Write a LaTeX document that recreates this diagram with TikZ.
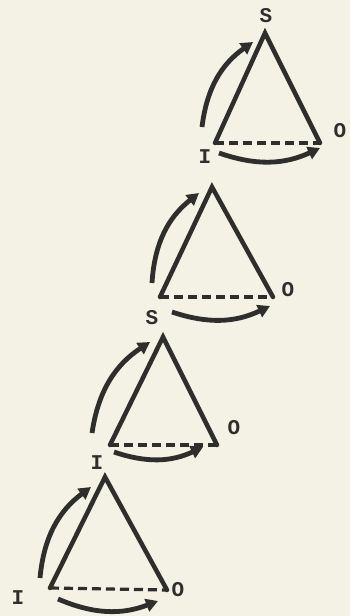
\documentclass[tikz,border=0pt]{standalone}
\usepackage{fontspec}
\setmonofont{Liberation Mono}
\usetikzlibrary{arrows.meta}
\definecolor{paper}{HTML}{F4F2E4}
\definecolor{ink}{HTML}{2E2E2C}
\tikzset{
  side/.style={draw=ink, line width=4.5pt, line join=miter, line cap=round},
  base/.style={draw=ink, line width=3.2pt, dash pattern=on 9pt off 5pt},
  flow/.style={draw=ink, line width=4.8pt, -{Triangle[length=12pt,width=13pt]}},
  lab/.style={text=ink, font=\fontsize{21}{21}\selectfont\ttfamily\bfseries, inner sep=0pt}
}
\begin{document}
\begin{tikzpicture}[x=1pt,y=-1pt]
\fill[paper] (0,0) rectangle (350,616);
\useasboundingbox (0,0) rectangle (350,616);
% triangle 1 (bottom)
\coordinate (L1) at (50,588); \coordinate (A1) at (105,477); \coordinate (R1) at (167,590);
% triangle 2
\coordinate (L2) at (110,445); \coordinate (A2) at (163,337); \coordinate (R2) at (217,445);
% triangle 3
\coordinate (L3) at (160,297); \coordinate (A3) at (212,187); \coordinate (R3) at (273,297);
% triangle 4 (top)
\coordinate (L4) at (215,143); \coordinate (A4) at (265,33); \coordinate (R4) at (320,143);
\foreach \i in {1,2,3,4}{
  \draw[side] (L\i) -- (A\i) -- (R\i);
  \draw[base] (L\i) -- (R\i);
}
% arc end points
\coordinate (a1s) at (40,578); \coordinate (a1e) at (91,487);
\coordinate (b1s) at (58,599); \coordinate (b1e) at (158,601);
\coordinate (a2s) at (92,433); \coordinate (a2e) at (150,342);
\coordinate (b2s) at (114,452); \coordinate (b2e) at (203,447);
\coordinate (a3s) at (152,283); \coordinate (a3e) at (199,193);
\coordinate (b3s) at (172,312); \coordinate (b3e) at (270,306);
\coordinate (a4s) at (202,127); \coordinate (a4e) at (253,42);
\coordinate (b4s) at (219,153); \coordinate (b4e) at (320,148);
\foreach \i in {1,2,3,4}{
  \draw[flow] (a\i s) to[bend left=24] (a\i e);
  \draw[flow] (b\i s) to[bend right=22] (b\i e);
}
% labels
\node[lab] (s4) at (266,16) {S};
\node[lab] (o4) at (340,131) {O};
\node[lab] (i4) at (205,157) {I};
\node[lab] (s3) at (152,318) {S};
\node[lab] (o3) at (288,290) {O};
\node[lab] (i2) at (97,463) {I};
\node[lab] (o2) at (234,428) {O};
\node[lab] (i1) at (18,598) {I};
\node[lab] (o1) at (178,590) {O};
\end{tikzpicture}
\end{document}
